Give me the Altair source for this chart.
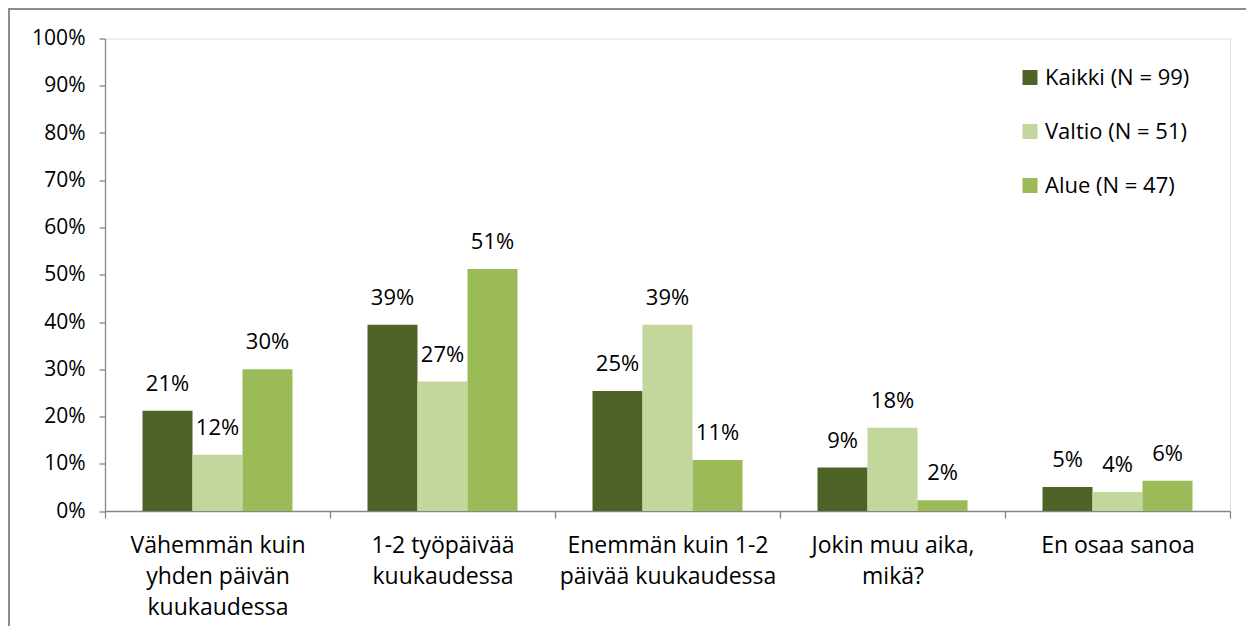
import altair as alt
import pandas as pd

categories = [
    "Vähemmän kuin\nyhden päivän\nkuukaudessa",
    "1-2 työpäivää\nkuukaudessa",
    "Enemmän kuin 1-2\npäivää kuukaudessa",
    "Jokin muu aika,\nmikä?",
    "En osaa sanoa",
]
series = ["Kaikki (N = 99)", "Valtio (N = 51)", "Alue (N = 47)"]
kaikki = [21.2, 39.4, 25.4, 9.2, 5.1]
valtio = [11.9, 27.4, 39.4, 17.6, 4.0]
alue = [30.0, 51.2, 10.8, 2.3, 6.4]
colors = ["#4f6228", "#c3d69b", "#9bbb59"]
y_ticks = [0, 10, 20, 30, 40, 50, 60, 70, 80, 90, 100]

rows = []
for s, vals in zip(series, [kaikki, valtio, alue]):
    for c, v in zip(categories, vals):
        rows.append({"category": c, "series": s, "value": v})
df = pd.DataFrame(rows)

FONT = "Open Sans"
AX = "#868686"

x_enc = alt.X(
    "category:N",
    sort=categories,
    scale=alt.Scale(paddingInner=0, paddingOuter=0),
    axis=alt.Axis(
        title=None,
        labelAngle=0,
        labelExpr="split(datum.label, '\\n')",
        tickBand="extent",
        tickSize=7,
        tickColor=AX,
        domainColor=AX,
        domainWidth=1.3,
        tickWidth=1.3,
        labelFont=FONT,
        labelFontSize=23,
        labelColor="#000000",
        labelLineHeight=31,
        labelBaseline="top",
        labelPadding=16,
        labelAlign="center",
        labelLimit=0,
    ),
)
xoff = alt.XOffset(
    "series:N", sort=series, scale=alt.Scale(paddingInner=0, paddingOuter=0.75)
)
y_enc = alt.Y(
    "value:Q",
    scale=alt.Scale(domain=[0, 100], nice=False),
    axis=alt.Axis(
        title=None,
        values=y_ticks,
        labelExpr="datum.value + '%'",
        grid=False,
        tickSize=6,
        tickColor=AX,
        domainColor=AX,
        domainWidth=1.3,
        tickWidth=1.3,
        labelFont=FONT,
        labelFontSize=21,
        labelColor="#000000",
        labelPadding=14,
    ),
)

bars = alt.Chart(df).mark_bar().encode(
    x=x_enc,
    xOffset=xoff,
    y=y_enc,
    color=alt.Color(
        "series:N",
        sort=series,
        scale=alt.Scale(domain=series, range=colors),
        legend=alt.Legend(
            title=None,
            orient="none",
            legendX=914,
            legendY=28,
            symbolType="square",
            symbolSize=225,
            symbolStrokeWidth=0,
            labelFont=FONT,
            labelFontSize=22,
            labelColor="#000000",
            labelOffset=4,
            rowPadding=32,
            padding=0,
            labelLimit=0,
        ),
    ),
)

labels = (
    alt.Chart(df)
    .transform_calculate(label="round(datum.value) + '%'")
    .mark_text(baseline="alphabetic", dy=-20, font=FONT, fontSize=22, color="#000000")
    .encode(x=alt.X("category:N", sort=categories), xOffset=xoff, y="value:Q", text="label:N")
)

frame = (
    alt.Chart(alt.Data(values=[{"a": 1}]))
    .mark_rect(fillOpacity=0, stroke="#8c8c8c", strokeWidth=2)
    .encode(
        x=alt.value(-96),
        x2=alt.value(1400),
        y=alt.value(-29.5),
        y2=alt.value(800),
    )
)

chart = (
    alt.layer(frame, bars, labels)
    .properties(
        width=1125,
        height=472.5,
        autosize=alt.AutoSizeParams(type="none"),
        padding={"left": 97, "top": 30.5, "right": 16, "bottom": 115},
    )
    .configure_view(stroke=None)
    .configure(font=FONT)
)

chart.save("out.html", embed_options={"renderer": "svg", "actions": False})
